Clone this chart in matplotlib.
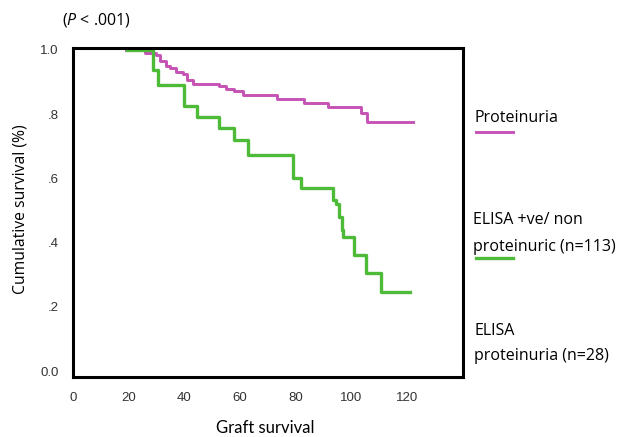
import numpy as np
import matplotlib.pyplot as plt
from matplotlib.lines import Line2D

plt.rcParams['mathtext.fontset'] = 'custom'
plt.rcParams['mathtext.it'] = 'Open Sans:italic'
plt.rcParams['mathtext.rm'] = 'Open Sans'

# Kaplan-Meier curves
t_prot = [19, 26, 30, 31.5, 33.5, 35, 37, 39.5, 41, 43, 52.5, 55, 58, 61, 73.5, 83, 91.5, 103.5, 105.5, 122]
s_prot = [1.0, 0.99, 0.983, 0.965, 0.95, 0.945, 0.932, 0.925, 0.905, 0.895, 0.888, 0.88, 0.872, 0.86,
          0.846, 0.835, 0.822, 0.804, 0.777, 0.777]

t_elisa = [19.5, 28.7, 30.5, 40, 44.5, 52.4, 57.8, 63, 79, 82, 93.4, 94.5, 95.6, 96.5, 97,
           101, 105.2, 110.6, 121.2]
s_elisa = [1.0, 0.938, 0.891, 0.826, 0.79, 0.757, 0.72, 0.673, 0.60, 0.57, 0.533, 0.52, 0.48, 0.44,
           0.418, 0.361, 0.305, 0.247, 0.247]

xticks = [0, 20, 40, 60, 80, 100, 120]
yticks = [0.0, 0.2, 0.4, 0.6, 0.8, 1.0]
ylabels = ["0.0", ".2", ".4", ".6", ".8", "1.0"]

magenta = "#c552b4"
green = "#4dba38"

fig = plt.figure(figsize=(6.19, 4.37), dpi=100)
ax = fig.add_axes([0.1175, 0.1384, 0.63, 0.7516])

ax.plot(t_prot, s_prot, drawstyle="steps-post", color=magenta, lw=2.1)
ax.plot(t_elisa, s_elisa, drawstyle="steps-post", color=green, lw=2.4)

ax.set_xlim(1.2, 140)
ax.set_ylim(-0.017, 1.006)
ax.set_xticks(xticks)
ax.set_xticklabels([str(v) for v in xticks], family="Liberation Sans", fontsize=9.5, color="#333333")
ax.set_yticks(yticks)
ax.set_yticklabels(ylabels, family="Liberation Sans", fontsize=9.5, color="#333333")
ax.tick_params(length=0)
ax.tick_params(axis="x", pad=11)
ax.tick_params(axis="y", pad=10)
for sp in ax.spines.values():
    sp.set_linewidth(2.2)
    sp.set_color("black")

fig.text(265 / 619, 1 - 428 / 437, "Graft survival", ha="center", va="center", family="Lato", fontsize=12)
fig.text(21 / 619, 1 - 209 / 437, "Cumulative survival (%)", rotation=90, ha="center", va="center",
         family="Open Sans", fontsize=11.3)

fig.text(62 / 619, 1 - 20 / 437, "($P$ < .001)", ha="left", va="center", family="Open Sans", fontsize=11.5)

# legend text to the right of the plot
fs = 11.5
fig.text(475 / 619, 1 - 118 / 437, "Proteinuria", ha="left", va="center", family="Open Sans", fontsize=fs)
fig.text(473 / 619, 1 - 220 / 437, "ELISA +ve/ non", ha="left", va="center", family="Open Sans", fontsize=fs)
fig.text(473 / 619, 1 - 247 / 437, "proteinuric (n=113)", ha="left", va="center", family="Open Sans", fontsize=fs)
fig.text(474 / 619, 1 - 331 / 437, "ELISA", ha="left", va="center", family="Open Sans", fontsize=fs)
fig.text(474 / 619, 1 - 356 / 437, "proteinuria (n=28)", ha="left", va="center", family="Open Sans", fontsize=fs)
fig.add_artist(Line2D([476 / 619, 513 / 619], [1 - 132 / 437] * 2, color=magenta, lw=2.1,
                      transform=fig.transFigure))
fig.add_artist(Line2D([476 / 619, 513 / 619], [1 - 258 / 437] * 2, color=green, lw=2.4,
                      transform=fig.transFigure))

plt.savefig("out.png", dpi=100)
